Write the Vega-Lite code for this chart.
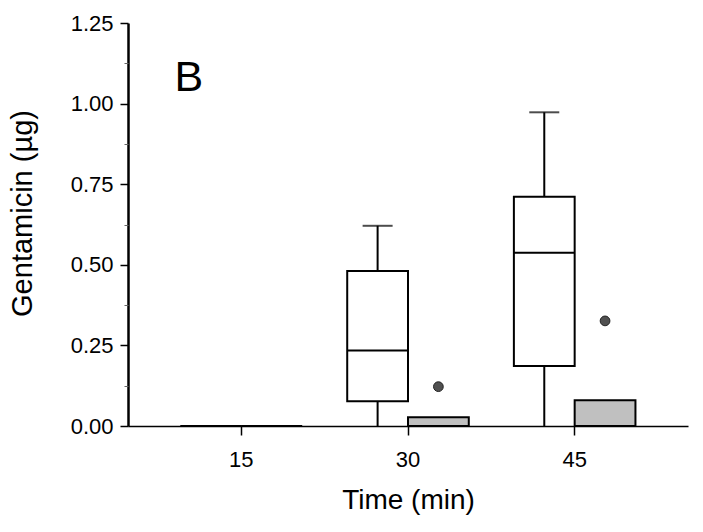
{
  "$schema": "https://vega.github.io/schema/vega-lite/v6.json",
  "width": 560,
  "height": 403,
  "autosize": {"type": "none"},
  "padding": {"left": 128, "top": 23, "right": 15, "bottom": 106},
  "background": "white",
  "config": {
    "view": {"stroke": null},
    "font": "Liberation Sans",
    "axis": {"labelColor": "black", "titleColor": "black", "domainColor": "black", "tickColor": "black", "grid": false, "labelFont": "Liberation Sans", "titleFont": "Liberation Sans", "titleFontWeight": "normal"}
  },
  "datasets": {
    "boxes": [
      {"time": "15", "group": "a", "lower": 0, "q1": 0, "median": 0, "q3": 0, "upper": 0},
      {"time": "15", "group": "b", "lower": 0, "q1": 0, "median": 0, "q3": 0, "upper": 0},
      {"time": "30", "group": "a", "lower": 0, "q1": 0.077, "median": 0.234, "q3": 0.481, "upper": 0.621},
      {"time": "30", "group": "b", "lower": 0, "q1": 0, "median": 0, "q3": 0.027, "upper": 0.027},
      {"time": "45", "group": "a", "lower": 0, "q1": 0.186, "median": 0.537, "q3": 0.711, "upper": 0.973},
      {"time": "45", "group": "b", "lower": 0, "q1": 0, "median": 0, "q3": 0.080, "upper": 0.080}
    ],
    "outliers": [
      {"time": "30", "group": "b", "value": 0.122},
      {"time": "45", "group": "b", "value": 0.326}
    ],
    "labels": [
      {"time": "15", "group": "a", "value": 1.079, "label": "B"}
    ]
  },
  "resolve": {"axis": {"y": "independent"}},
  "encoding": {
    "x": {
      "field": "time", "type": "ordinal", "sort": ["15", "30", "45"],
      "scale": {"type": "band", "domain": ["15", "30", "45"], "paddingInner": 0, "paddingOuter": 0.18},
      "axis": {"title": "Time (min)", "labelAngle": 0, "labelFontSize": 22, "titleFontSize": 28, "tickSize": 9, "tickWidth": 1.5, "domainWidth": 1.3, "labelPadding": 14, "titlePadding": 16}
    },
    "xOffset": {
      "field": "group", "type": "nominal",
      "scale": {"domain": ["a", "b"], "paddingInner": 0, "paddingOuter": 0.371}
    }
  },
  "layer": [
    {
      "data": {"name": "boxes"},
      "mark": {"type": "rule", "color": "black", "strokeWidth": 2},
      "encoding": {
        "y": {"field": "lower", "type": "quantitative", "scale": {"domain": [0, 1.25], "nice": false, "zero": true},
          "axis": {"title": "Gentamicin (µg)", "values": [0, 0.25, 0.5, 0.75, 1.0, 1.25], "format": ".2f", "labelFontSize": 22, "titleFontSize": 29, "tickSize": 8, "tickWidth": 1.5, "domainWidth": 2.5, "labelPadding": 7, "titlePadding": 33, "titleY": 190, "orient": "left"}},
        "y2": {"field": "q1"}
      }
    },
    {
      "data": {"name": "boxes"},
      "mark": {"type": "rule", "color": "black", "strokeWidth": 2},
      "encoding": {
        "y": {"field": "q3", "type": "quantitative", "scale": {"domain": [0, 1.25], "nice": false},
          "axis": {"orient": "left", "title": null, "labels": false, "domain": false, "values": [0.125, 0.375, 0.625, 0.875, 1.125], "tickSize": 4, "tickWidth": 1, "tickColor": "#666666"}},
        "y2": {"field": "upper"}
      }
    },
    {
      "data": {"name": "boxes"},
      "transform": [{"filter": "datum.upper > datum.q3"}],
      "mark": {"type": "tick", "color": "black", "size": 30, "thickness": 2},
      "encoding": {
        "y": {"field": "upper", "type": "quantitative", "scale": {"domain": [0, 1.25], "nice": false}, "axis": null}
      }
    },
    {
      "data": {"name": "boxes"},
      "mark": {"type": "bar", "stroke": "black", "strokeWidth": 2},
      "encoding": {
        "y": {"field": "q1", "type": "quantitative", "scale": {"domain": [0, 1.25], "nice": false}, "axis": null},
        "y2": {"field": "q3"},
        "fill": {"field": "group", "type": "nominal", "scale": {"domain": ["a", "b"], "range": ["white", "#c0c0c0"]}, "legend": null}
      }
    },
    {
      "data": {"name": "boxes"},
      "mark": {"type": "bar", "stroke": "black", "strokeWidth": 2, "fill": null},
      "encoding": {
        "y": {"field": "median", "type": "quantitative", "scale": {"domain": [0, 1.25], "nice": false}, "axis": null},
        "y2": {"field": "median"}
      }
    },
    {
      "data": {"name": "outliers"},
      "mark": {"type": "point", "filled": true, "fill": "#505050", "stroke": "#222222", "strokeWidth": 1, "size": 95, "opacity": 1},
      "encoding": {
        "y": {"field": "value", "type": "quantitative", "scale": {"domain": [0, 1.25], "nice": false}, "axis": null}
      }
    },
    {
      "data": {"name": "labels"},
      "mark": {"type": "text", "fontSize": 43, "font": "Liberation Sans", "align": "center", "baseline": "middle", "dx": -22, "color": "black"},
      "encoding": {
        "y": {"field": "value", "type": "quantitative", "scale": {"domain": [0, 1.25], "nice": false}, "axis": null},
        "text": {"field": "label"}
      }
    }
  ]
}
